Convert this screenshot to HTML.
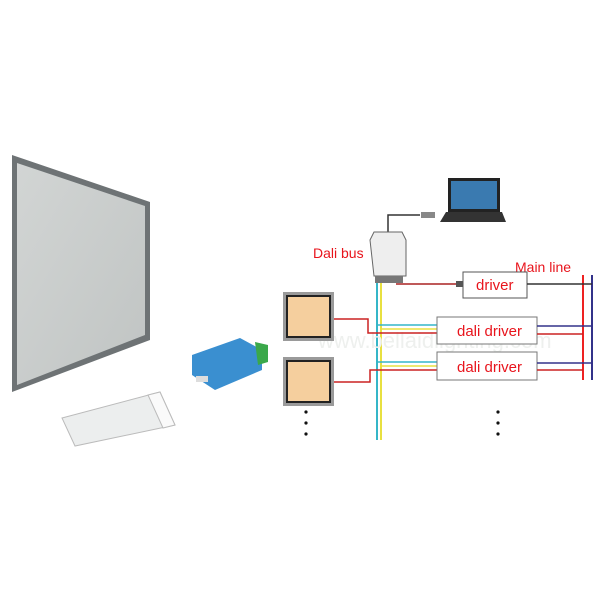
<!DOCTYPE html><html><head><style>body{margin:0;background:#fff}svg{display:block}</style></head><body>
<svg width="600" height="600" viewBox="0 0 600 600" font-family="Liberation Sans, sans-serif">
<rect width="600" height="600" fill="#fff"/>
<defs><linearGradient id="pg" x1="0" y1="0" x2="1" y2="1"><stop offset="0" stop-color="#d2d5d4"/><stop offset="1" stop-color="#c0c4c3"/></linearGradient></defs>
<!-- panel -->
<polygon points="12,155 150,202 150,340 12,392" fill="#6e7375"/>
<polygon points="17,163 145,206 145,335 17,385" fill="url(#pg)"/>
<!-- white driver -->
<polygon points="62,418 160,392 175,425 75,446" fill="#eceeee" stroke="#bbb"/>
<polygon points="148,395 160,392 175,425 163,428" fill="#fafafa" stroke="#bbb"/>
<!-- blue device -->
<polygon points="192,355 240,338 262,350 262,370 215,390 192,375" fill="#3a8fd0"/>
<polygon points="255,342 268,345 268,362 258,365" fill="#3aa84a"/>
<rect x="196" y="376" width="12" height="6" fill="#ddd"/>
<!-- laptop -->
<rect x="448" y="178" width="52" height="34" fill="#222"/>
<rect x="451" y="181" width="46" height="28" fill="#3a7ab0"/>
<polygon points="446,212 502,212 506,222 440,222" fill="#333"/>
<polyline points="388,233 388,215 420,215" fill="none" stroke="#333" stroke-width="1.5"/>
<rect x="421" y="212" width="14" height="6" fill="#888"/>
<!-- dali device -->
<polygon points="374,232 402,232 406,240 406,276 374,276 370,240" fill="#eee" stroke="#666"/>
<rect x="375" y="276" width="28" height="7" fill="#777"/>
<text x="313" y="258" font-size="14" fill="#e8141c">Dali bus</text>
<text x="515" y="272" font-size="14" fill="#e8141c">Main line</text>
<line x1="583" y1="275" x2="583" y2="380" stroke="#e22" stroke-width="2"/>
<line x1="592" y1="275" x2="592" y2="380" stroke="#33328a" stroke-width="2"/>
<line x1="396" y1="284" x2="463" y2="284" stroke="#a22" stroke-width="1.5"/>
<rect x="456" y="281" width="8" height="6" fill="#555"/>
<rect x="463" y="272" width="64" height="26" fill="#fff" stroke="#555"/>
<text x="476" y="290" font-size="15" fill="#e8141c">driver</text>
<line x1="527" y1="284" x2="592" y2="284" stroke="#333" stroke-width="1.5"/>
<line x1="377" y1="283" x2="377" y2="440" stroke="#35b6c8" stroke-width="2"/>
<line x1="381" y1="283" x2="381" y2="440" stroke="#e8e040" stroke-width="2"/>
<text x="318" y="348" font-size="22" fill="#eef0ee">www.bellaidlighting.com</text>
<g>
<line x1="377" y1="325" x2="440" y2="325" stroke="#35b6c8" stroke-width="1.5"/>
<line x1="381" y1="329" x2="440" y2="329" stroke="#e8e040" stroke-width="1.5"/>
<polyline points="334,319 368,319 368,333 440,333" fill="none" stroke="#c22" stroke-width="1.5"/>
<rect x="437" y="317" width="100" height="27" fill="#fff" stroke="#777"/>
<text x="457" y="336" font-size="15" fill="#e8141c">dali driver</text>
<polyline points="537,326 592,326" stroke="#33328a" stroke-width="1.5"/>
<polyline points="537,334 583,334" stroke="#c22" stroke-width="1.5"/>
</g>
<g>
<line x1="377" y1="362" x2="440" y2="362" stroke="#35b6c8" stroke-width="1.5"/>
<line x1="381" y1="366" x2="440" y2="366" stroke="#e8e040" stroke-width="1.5"/>
<polyline points="334,382 370,382 370,370 440,370" fill="none" stroke="#c22" stroke-width="1.5"/>
<rect x="437" y="352" width="100" height="28" fill="#fff" stroke="#777"/>
<text x="457" y="372" font-size="15" fill="#e8141c">dali driver</text>
<polyline points="537,363 592,363" stroke="#33328a" stroke-width="1.5"/>
<polyline points="537,370 583,370" stroke="#c22" stroke-width="1.5"/>
</g>
<rect x="283" y="292" width="51" height="49" fill="#9a9a9a"/>
<rect x="287" y="296" width="43" height="41" fill="#f5cf9e" stroke="#222" stroke-width="2"/>
<rect x="283" y="357" width="51" height="49" fill="#9a9a9a"/>
<rect x="287" y="361" width="43" height="41" fill="#f5cf9e" stroke="#222" stroke-width="2"/>
<g fill="#111"><circle cx="306" cy="412" r="1.6"/><circle cx="306" cy="423" r="1.6"/><circle cx="306" cy="434" r="1.6"/>
<circle cx="498" cy="412" r="1.6"/><circle cx="498" cy="423" r="1.6"/><circle cx="498" cy="434" r="1.6"/></g>
</svg></body></html>
